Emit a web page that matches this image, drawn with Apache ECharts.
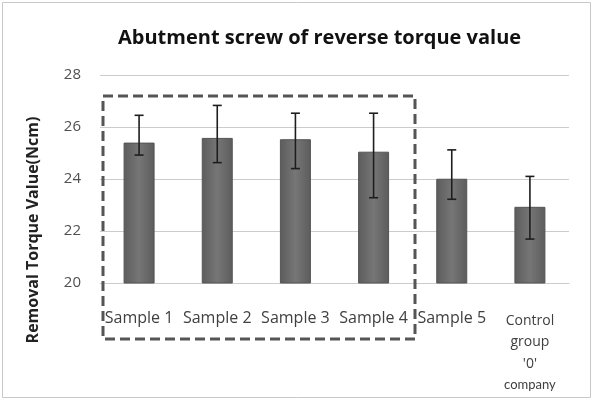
<!DOCTYPE html>
<html lang="en">
<head>
    <meta charset="UTF-8">
    <title>Abutment screw of reverse torque value</title>
    <script src="https://cdn.jsdelivr.net/npm/echarts@6/dist/echarts.min.js"></script>
    <style>
        html, body { margin: 0; padding: 0; background: #fff; }
    </style>
</head>
<body>
    <div id="chart" style="width:594px;height:402px;"></div>
    <script type="text/javascript">
        var categories = ['Sample 1', 'Sample 2', 'Sample 3', 'Sample 4', 'Sample 5', "Control\ngroup\n'0'\ncompany"];
        var means = [25.4, 25.58, 25.53, 25.05, 24.01, 22.93];
        var errHigh = [26.45, 26.83, 26.53, 26.53, 25.12, 24.1];
        var errLow = [24.92, 24.63, 24.4, 23.28, 23.22, 21.69];
        var yTicks = [20, 22, 24, 26, 28];

        var chart = echarts.init(document.getElementById('chart'));

        var errData = [];
        for (var i = 0; i < categories.length; i++) {
            errData.push([i, errLow[i], errHigh[i]]);
        }

        chart.setOption({
            animation: false,
            textStyle: { fontFamily: '"Open Sans", "Noto Sans", sans-serif' },
            grid: { left: 100, right: 25, top: 75, bottom: 119 },
            xAxis: {
                type: 'category',
                data: categories,
                axisLine: { lineStyle: { color: '#cccccc' } },
                axisTick: { show: false },
                axisLabel: {
                    color: '#404040',
                    fontSize: 16,
                    margin: 27,
                    interval: 0,
                    formatter: function (v) {
                        if (v.indexOf('\n') < 0) return v;
                        // multi-line label: smaller text, last word condensed
                        var parts = v.split('\n');
                        var out = [];
                        for (var k = 0; k < parts.length; k++) {
                            out.push((k === parts.length - 1 ? '{n|' : '{c|') + parts[k] + '}');
                        }
                        return out.join('\n');
                    },
                    rich: {
                        c: { fontSize: 14, lineHeight: 21.5, color: '#404040' },
                        n: { fontSize: 13, lineHeight: 21.5, color: '#404040', fontFamily: 'Lato' }
                    }
                }
            },
            yAxis: {
                type: 'value',
                min: yTicks[0],
                max: yTicks[yTicks.length - 1],
                interval: 2,
                axisLine: { show: false },
                axisTick: { show: false },
                axisLabel: { color: '#505050', fontSize: 15, margin: 19 },
                splitLine: { lineStyle: { color: '#cccccc', width: 1 } }
            },
            series: [
                {
                    type: 'bar',
                    data: means,
                    barWidth: 31,
                    itemStyle: {
                        color: new echarts.graphic.LinearGradient(0, 0, 1, 0, [
                            { offset: 0, color: '#5c5c5c' },
                            { offset: 0.5, color: '#767676' },
                            { offset: 1, color: '#5c5c5c' }
                        ]),
                        borderColor: '#555',
                        borderWidth: 1
                    }
                },
                {
                    type: 'custom',
                    data: errData,
                    z: 5,
                    renderItem: function (params, api) {
                        var x = api.value(0);
                        var lo = api.coord([x, api.value(1)]);
                        var hi = api.coord([x, api.value(2)]);
                        var cap = 4.5;
                        var st = { stroke: '#1e1e1e', lineWidth: 1.6 };
                        return {
                            type: 'group',
                            children: [
                                { type: 'line', shape: { x1: hi[0], y1: hi[1], x2: lo[0], y2: lo[1] }, style: st },
                                { type: 'line', shape: { x1: hi[0] - cap, y1: hi[1], x2: hi[0] + cap, y2: hi[1] }, style: st },
                                { type: 'line', shape: { x1: lo[0] - cap, y1: lo[1], x2: lo[0] + cap, y2: lo[1] }, style: st }
                            ]
                        };
                    }
                }
            ],
            graphic: [
                {
                    type: 'rect',
                    shape: { x: 2.5, y: 2.5, width: 588, height: 395 },
                    style: { fill: 'none', stroke: '#c8c8c8', lineWidth: 1 }
                },
                {
                    type: 'text',
                    left: 118,
                    top: 28,
                    style: {
                        text: 'Abutment screw of reverse torque value',
                        font: 'bold 20px "Open Sans", "Noto Sans", sans-serif',
                        fill: '#111'
                    }
                },
                {
                    type: 'text',
                    x: 33,
                    y: 230,
                    rotation: Math.PI / 2,
                    style: {
                        text: 'Removal Torque Value(Ncm)',
                        font: 'bold 16px "Open Sans", "Noto Sans", sans-serif',
                        fill: '#222',
                        align: 'center',
                        verticalAlign: 'middle'
                    }
                },
                {
                    type: 'rect',
                    z: 10,
                    shape: { x: 103, y: 96, width: 312, height: 243 },
                    style: { fill: 'none', stroke: '#555', lineWidth: 3, lineDash: [10, 5] }
                }
            ]
        });
    </script>
</body>
</html>
